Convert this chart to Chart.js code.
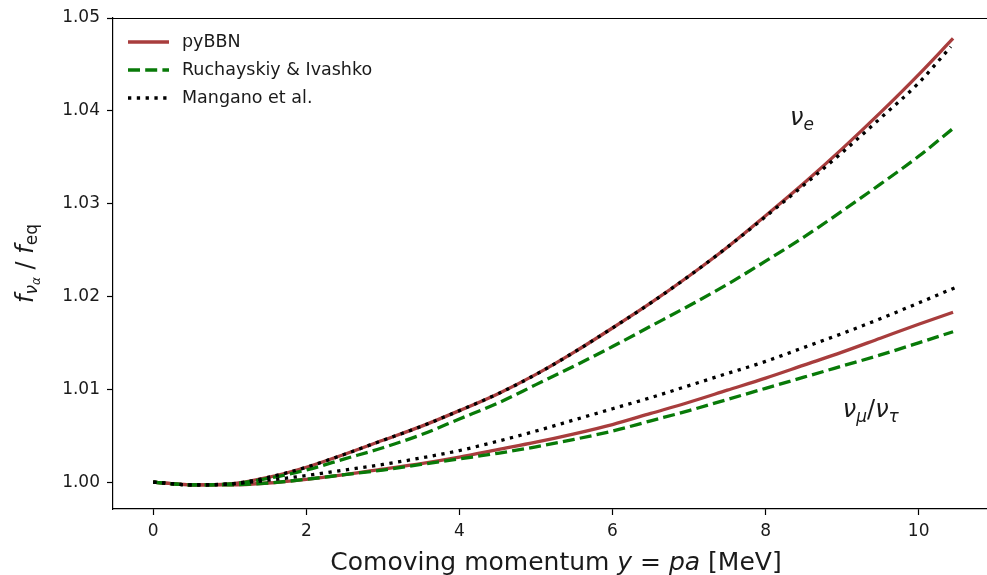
<!DOCTYPE html>
<html>
<head>
<meta charset="utf-8">
<script src="https://cdn.jsdelivr.net/npm/chart.js@4.4.1/dist/chart.umd.min.js"></script>
<style>
html,body{margin:0;padding:0;background:#fff;overflow:hidden;}
#wrap{width:1000px;height:575px;}
</style>
</head>
<body>
<div id="wrap"><canvas id="ratioChart" width="1000" height="575"></canvas></div>
<script>
// comoving momentum grid (MeV)
const yGrid = [0, 0.5, 1, 1.5, 2, 2.5, 3, 3.5, 4, 4.5, 5, 5.5, 6, 6.5, 7, 7.5, 8, 8.5, 9, 9.5, 10, 10.45];
const yGridManganoE = [0, 0.5, 1, 1.5, 2, 2.5, 3, 3.5, 4, 4.5, 5, 5.5, 6, 6.5, 7, 7.5, 8, 8.5, 9, 9.5, 10, 10.42];
const yGridManganoMu = [0, 0.5, 1, 1.5, 2, 2.5, 3, 3.5, 4, 4.5, 5, 5.5, 6, 6.5, 7, 7.5, 8, 8.5, 9, 9.5, 10, 10.52];

// f_nu / f_eq, electron neutrinos
const pybbnE = [1.0000, 0.9997, 0.9998, 1.0005, 1.0016, 1.0030, 1.0045, 1.0060, 1.0077, 1.0095, 1.0116, 1.0140, 1.0166, 1.0193, 1.0222, 1.0253, 1.0287, 1.0322, 1.0359, 1.0398, 1.0439, 1.0478];
const ruchE = [1.0000, 0.9997, 0.9998, 1.0004, 1.0013, 1.0025, 1.0037, 1.0051, 1.0068, 1.0085, 1.0105, 1.0125, 1.0146, 1.0168, 1.0190, 1.0213, 1.0238, 1.0264, 1.0292, 1.0321, 1.0351, 1.0381];
const manganoE = [1.0000, 0.9997, 0.9998, 1.0005, 1.0016, 1.0030, 1.0045, 1.0060, 1.0077, 1.0095, 1.0116, 1.0140, 1.0166, 1.0193, 1.0222, 1.0253, 1.0286, 1.0320, 1.0355, 1.0392, 1.0430, 1.0469];

// f_nu / f_eq, muon / tau neutrinos
const pybbnMu = [1.0000, 0.9997, 0.9997, 0.9999, 1.0003, 1.0008, 1.0014, 1.0020, 1.0027, 1.0035, 1.0043, 1.0052, 1.0062, 1.0074, 1.0086, 1.0099, 1.0112, 1.0126, 1.0140, 1.0155, 1.0170, 1.0183];
const ruchMu = [1.0000, 0.9997, 0.9997, 0.9999, 1.0003, 1.0008, 1.0013, 1.0019, 1.0025, 1.0031, 1.0038, 1.0046, 1.0055, 1.0066, 1.0077, 1.0089, 1.0101, 1.0113, 1.0125, 1.0137, 1.0150, 1.0162];
const manganoMu = [1.0000, 0.9997, 0.9998, 1.0002, 1.0007, 1.0013, 1.0019, 1.0026, 1.0034, 1.0044, 1.0055, 1.0067, 1.0079, 1.0091, 1.0104, 1.0117, 1.0130, 1.0145, 1.0160, 1.0176, 1.0193, 1.0211];

const seriesNames = ['pyBBN', 'Ruchayskiy & Ivashko', 'Mangano et al.'];
const xTicks = [0, 2, 4, 6, 8, 10];
const yTicks = [1.00, 1.01, 1.02, 1.03, 1.04, 1.05];

const FONT = '"DejaVu Sans", sans-serif';
const styles = [
  {color: '#a83d3d', dash: [], order: 3},
  {color: '#087a08', dash: [12, 5.2], order: 2},
  {color: '#000000', dash: [3.3, 5.5], order: 1}
];

const pts = (xs, vs) => xs.map((x, i) => ({x, y: vs[i]}));
const curves = [
  [pts(yGrid, pybbnE), pts(yGrid, pybbnMu)],
  [pts(yGrid, ruchE), pts(yGrid, ruchMu)],
  [pts(yGridManganoE, manganoE), pts(yGridManganoMu, manganoMu)]
];

const datasets = [];
curves.forEach((pair, s) => pair.forEach(data => datasets.push({
  label: seriesNames[s],
  data,
  showLine: true,
  pointRadius: 0,
  borderColor: styles[s].color,
  borderDash: styles[s].dash,
  borderWidth: 3.3,
  borderCapStyle: 'butt',
  cubicInterpolationMode: 'monotone',
  order: styles[s].order
})));

// draws a run of text pieces: [text, size, italic, dy]
function richText(ctx, parts, x, y, align) {
  let w = 0;
  parts.forEach(p => {
    ctx.font = (p[2] ? 'italic ' : '') + p[1] + 'px ' + FONT;
    w += ctx.measureText(p[0]).width;
  });
  let cx = align === 'center' ? x - w / 2 : x;
  ctx.textAlign = 'left';
  ctx.textBaseline = 'alphabetic';
  parts.forEach(p => {
    ctx.font = (p[2] ? 'italic ' : '') + p[1] + 'px ' + FONT;
    ctx.fillText(p[0], cx, y + (p[3] || 0));
    cx += ctx.measureText(p[0]).width;
  });
}

const decorations = {
  id: 'decorations',
  afterDraw(chart) {
    const {ctx, chartArea: a, scales} = chart;
    ctx.save();
    ctx.fillStyle = '#1a1a1a';

    // top spine
    ctx.strokeStyle = '#000';
    ctx.lineWidth = 1.2;
    ctx.beginPath();
    ctx.moveTo(a.left, a.top + 0.5);
    ctx.lineTo(a.right, a.top + 0.5);
    ctx.stroke();

    // axis titles
    richText(ctx, [['Comoving momentum ', 25], ['y', 25, true], [' = ', 25], ['pa', 25, true], [' [MeV]', 25]],
      (a.left + a.right) / 2, 570, 'center');
    ctx.save();
    ctx.translate(33, (a.top + a.bottom) / 2);
    ctx.rotate(-Math.PI / 2);
    richText(ctx, [['f', 24, true], ['ν', 17, true, 4], ['α', 12, true, 7], [' / ', 24], ['f', 24, true], ['eq', 17, false, 4]],
      0, 0, 'center');
    ctx.restore();

    // curve family labels
    const xs = scales.x, ys = scales.y;
    richText(ctx, [['ν', 24, true], ['e', 17, true, 5]], xs.getPixelForValue(8.32), ys.getPixelForValue(1.0385), 'left');
    richText(ctx, [['ν', 24, true], ['μ', 17, true, 5], ['/', 24], ['ν', 24, true], ['τ', 17, true, 5]],
      xs.getPixelForValue(9.01), ys.getPixelForValue(1.0070), 'left');

    // legend
    seriesNames.forEach((name, i) => {
      const ds = chart.data.datasets[i * 2];
      const ly = a.top + 24 + 28 * i;
      ctx.strokeStyle = ds.borderColor;
      ctx.lineWidth = ds.borderWidth;
      ctx.lineCap = 'butt';
      ctx.setLineDash(ds.borderDash);
      ctx.beginPath();
      ctx.moveTo(a.left + 15, ly);
      ctx.lineTo(a.left + 56, ly);
      ctx.stroke();
      ctx.setLineDash([]);
      ctx.font = '17.5px ' + FONT;
      ctx.textBaseline = 'middle';
      ctx.fillText(name, a.left + 69, ly);
    });
    ctx.restore();
  }
};

const axisCommon = {
  type: 'linear',
  grid: {drawOnChartArea: false, drawTicks: true, tickLength: 6, tickColor: '#000', tickWidth: 1.2},
  border: {display: true, color: '#000', width: 1.2}
};

new Chart(document.getElementById('ratioChart'), {
  type: 'scatter',
  data: {datasets},
  options: {
    responsive: false,
    animation: false,
    devicePixelRatio: 1,
    layout: {padding: {top: 18, right: 1, left: 0, bottom: 0}},
    plugins: {legend: {display: false}, tooltip: {enabled: false}},
    scales: {
      x: {
        ...axisCommon,
        min: -0.526, max: 11.05,
        afterBuildTicks: s => { s.ticks = xTicks.map(v => ({value: v})); },
        afterFit: s => { s.height = 66; },
        ticks: {color: '#1a1a1a', font: {family: FONT, size: 17}, padding: 6, maxRotation: 0, callback: v => String(v)}
      },
      y: {
        ...axisCommon,
        min: 0.9971, max: 1.05,
        afterBuildTicks: s => { s.ticks = yTicks.map(v => ({value: v})); },
        afterFit: s => { s.width = 113; },
        ticks: {color: '#1a1a1a', font: {family: FONT, size: 17}, padding: 7, callback: v => v.toFixed(2)}
      }
    }
  },
  plugins: [decorations]
});
</script>
</body>
</html>
